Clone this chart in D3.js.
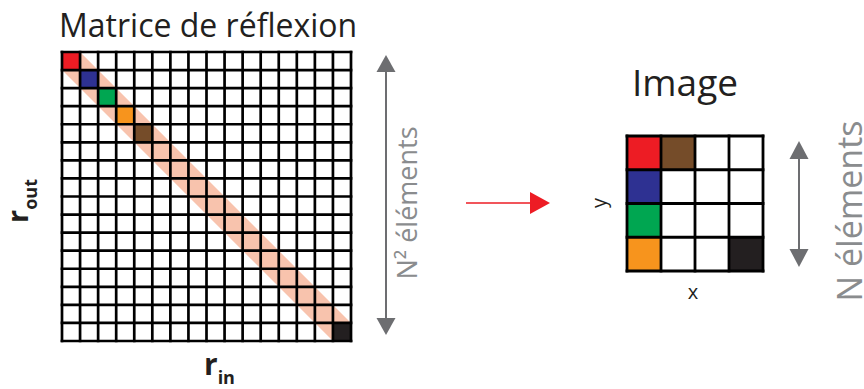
<!DOCTYPE html>
<html>
<head>
<meta charset="utf-8">
<script src="https://cdn.jsdelivr.net/npm/d3@7/dist/d3.min.js"></script>
<style>
  html, body { margin: 0; padding: 0; background: #fff; }
  svg { display: block; }
  text { font-family: "Open Sans", "Noto Sans", sans-serif; }
</style>
</head>
<body>
<svg id="chart" width="864" height="389"></svg>
<script>
// ---- data ----
const matrixSize = 16;                 // N^2 = 16
const imageSize = 4;                   // N = 4
const pixelNames = ["p1", "p2", "p3", "p4", "p5", "p16"];
const pixelColors = ["#ed1c24", "#2e3192", "#00a651", "#f7941d", "#754c29", "#231f20"];
const matrixRows = [0, 1, 2, 3, 4, 15];
const matrixCols = [0, 1, 2, 3, 4, 15];
const imageRows = [0, 1, 2, 3, 0, 3];
const imageCols = [0, 0, 0, 0, 1, 3];
const bandHalfWidth = 1;               // diagonal band, in cells
const labels = {
  title: "Matrice de réflexion",
  image: "Image",
  n2: "N² éléments",
  n: "N éléments",
  x: "x",
  y: "y"
};

const svg = d3.select("#chart");

// ---- reflection matrix ----
const mx = d3.scaleLinear().domain([0, matrixSize]).range([62, 351]);
const my = d3.scaleLinear().domain([0, matrixSize]).range([52, 341]);

const bandPts = [
  [0, 0], [bandHalfWidth, 0], [matrixSize, matrixSize - bandHalfWidth],
  [matrixSize, matrixSize], [matrixSize - bandHalfWidth, matrixSize], [0, bandHalfWidth]
];
svg.append("polygon")
  .attr("points", bandPts.map(p => [mx(p[0]), my(p[1])].join(",")).join(" "))
  .attr("fill", "#f8c3ad");

svg.append("g").selectAll("rect")
  .data(pixelNames.map((n, i) => ({ r: matrixRows[i], c: matrixCols[i], color: pixelColors[i] })))
  .join("rect")
  .attr("x", d => mx(d.c)).attr("y", d => my(d.r))
  .attr("width", mx(1) - mx(0)).attr("height", my(1) - my(0))
  .attr("fill", d => d.color);

const mSW = 2.7;
const mGrid = svg.append("g").attr("stroke", "#000").attr("stroke-width", mSW);
d3.range(matrixSize + 1).forEach(i => {
  mGrid.append("line").attr("x1", mx(i)).attr("x2", mx(i)).attr("y1", my(0) - mSW / 2).attr("y2", my(matrixSize) + mSW / 2);
  mGrid.append("line").attr("y1", my(i)).attr("y2", my(i)).attr("x1", mx(0) - mSW / 2).attr("x2", mx(matrixSize) + mSW / 2);
});

// ---- image grid ----
const ix = d3.scaleLinear().domain([0, imageSize]).range([627, 763]);
const iy = d3.scaleLinear().domain([0, imageSize]).range([136, 271]);

svg.append("g").selectAll("rect")
  .data(pixelNames.map((n, i) => ({ r: imageRows[i], c: imageCols[i], color: pixelColors[i] })))
  .join("rect")
  .attr("x", d => ix(d.c)).attr("y", d => iy(d.r))
  .attr("width", ix(1) - ix(0)).attr("height", iy(1) - iy(0))
  .attr("fill", d => d.color);

const iSW = 2.8;
const iGrid = svg.append("g").attr("stroke", "#000").attr("stroke-width", iSW);
d3.range(imageSize + 1).forEach(i => {
  iGrid.append("line").attr("x1", ix(i)).attr("x2", ix(i)).attr("y1", iy(0) - iSW / 2).attr("y2", iy(imageSize) + iSW / 2);
  iGrid.append("line").attr("y1", iy(i)).attr("y2", iy(i)).attr("x1", ix(0) - iSW / 2).attr("x2", ix(imageSize) + iSW / 2);
});

// ---- arrows ----
function vArrow(x, y1, y2, color, hw, hh, sw) {
  const g = svg.append("g");
  g.append("line").attr("x1", x).attr("x2", x).attr("y1", y1 + hh - 1).attr("y2", y2 - hh + 1)
    .attr("stroke", color).attr("stroke-width", sw);
  g.append("polygon").attr("points", `${x},${y1} ${x - hw},${y1 + hh} ${x + hw},${y1 + hh}`).attr("fill", color);
  g.append("polygon").attr("points", `${x},${y2} ${x - hw},${y2 - hh} ${x + hw},${y2 - hh}`).attr("fill", color);
}
vArrow(386, 55, 335, "#6d6e71", 9.5, 17, 2);
vArrow(799, 141, 267, "#6d6e71", 9.5, 18, 2);

// red arrow
svg.append("line").attr("x1", 466).attr("x2", 532).attr("y1", 203).attr("y2", 203)
  .attr("stroke", "#ed1c24").attr("stroke-width", 1.6);
svg.append("polygon").attr("points", "550,203 530,192 530,214").attr("fill", "#ed1c24");

// ---- texts ----
svg.append("text").attr("x", 59).attr("y", 37).attr("font-size", 32).attr("fill", "#231f20").text(labels.title);
svg.append("text").attr("x", 685).attr("y", 96).attr("text-anchor", "middle").attr("font-size", 37).attr("fill", "#231f20").text(labels.image);

svg.append("text").attr("transform", "translate(417,203) rotate(-90)")
  .attr("text-anchor", "middle").attr("font-size", 27).attr("fill", "#8a8c8e").text(labels.n2);
svg.append("text").attr("transform", "translate(862,211) rotate(-90)")
  .attr("text-anchor", "middle").attr("font-size", 34).attr("fill", "#8a8c8e").text(labels.n);

svg.append("text").attr("transform", "translate(606,203) rotate(-90)")
  .attr("text-anchor", "middle").attr("font-size", 20).attr("fill", "#231f20").text(labels.y);
svg.append("text").attr("x", 693).attr("y", 299)
  .attr("text-anchor", "middle").attr("font-size", 20).attr("fill", "#231f20").text(labels.x);

const rout = svg.append("text").attr("transform", "translate(28,223) rotate(-90)")
  .attr("font-weight", "bold").attr("fill", "#231f20");
rout.append("tspan").attr("font-size", 29).text("r");
rout.append("tspan").attr("font-size", 18).attr("dy", 9).text("out");

const rin = svg.append("text").attr("x", 204).attr("y", 375)
  .attr("font-weight", "bold").attr("fill", "#231f20");
rin.append("tspan").attr("font-size", 30).text("r");
rin.append("tspan").attr("font-size", 18).attr("dy", 9).text("in");
</script>
</body>
</html>
